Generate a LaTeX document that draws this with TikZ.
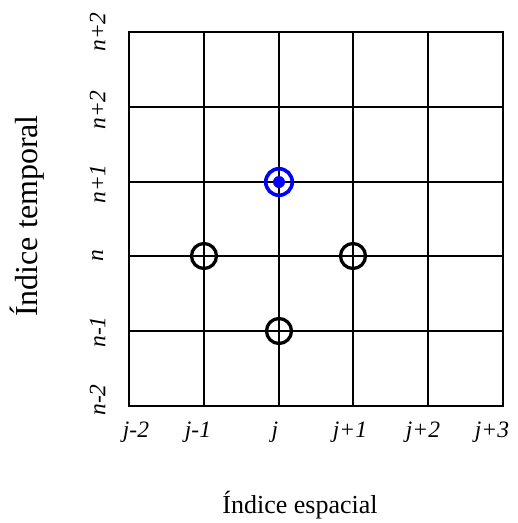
\documentclass[tikz,border=0pt]{standalone}
\usepackage{fontspec}
\setmainfont{Liberation Serif}
\begin{document}
\begin{tikzpicture}[x=1pt,y=-1pt,
  gridline/.style={line width=2.8pt,line cap=rect},
  ticklbl/.style={font=\fontsize{23.5}{28}\selectfont\itshape,inner sep=0pt},
  xtitle/.style={font=\fontsize{26}{30}\selectfont,inner sep=0pt},
  ytitle/.style={font=\fontsize{32}{36}\selectfont,inner sep=0pt},
  oldpt/.style={circle,draw=black,line width=3.3pt,minimum size=25pt,inner sep=0pt},
  newpt/.style={circle,draw=blue,line width=3.6pt,minimum size=26.5pt,inner sep=0pt},
  dotpt/.style={circle,fill=blue,minimum size=12pt,inner sep=0pt}]
\useasboundingbox (0,0) rectangle (518,523);
% grid
\foreach \x in {129,204,279,353,428,503}
  \draw[gridline] (\x,32) -- (\x,406);
\foreach \y in {32,107,182,256,331,406}
  \draw[gridline] (129,\y) -- (503,\y);
% points
\node[oldpt] (pl) at (204,256) {};
\node[oldpt] (pr) at (353,256) {};
\node[oldpt] (pb) at (279,331) {};
\node[newpt] (pn) at (279,182) {};
\node[dotpt] (pd) at (279,182) {};
% row labels
\node[ticklbl,rotate=90] (r6) at (97.5,32) {n+2};
\node[ticklbl,rotate=90] (r5) at (97.5,110) {n+2};
\node[ticklbl,rotate=90] (r4) at (97.5,184) {n+1};
\node[ticklbl,rotate=90] (r3) at (97.5,256) {n};
\node[ticklbl,rotate=90] (r2) at (97.5,332) {n-1};
\node[ticklbl,rotate=90] (r1) at (97.5,400) {n-2};
% column labels
\node[ticklbl,anchor=base] (c1) at (136,437) {j-2};
\node[ticklbl,anchor=base] (c2) at (198,437) {j-1};
\node[ticklbl,anchor=base] (c3) at (275,437) {j};
\node[ticklbl,anchor=base] (c4) at (350,437) {j+1};
\node[ticklbl,anchor=base] (c5) at (423,437) {j+2};
\node[ticklbl,anchor=base] (c6) at (492,437) {j+3};
% axis titles
\node[xtitle,anchor=base] (tx) at (300,513) {Índice espacial};
\node[ytitle,anchor=base,rotate=90] (ty) at (37.5,216) {Índice temporal};
\end{tikzpicture}
\end{document}
